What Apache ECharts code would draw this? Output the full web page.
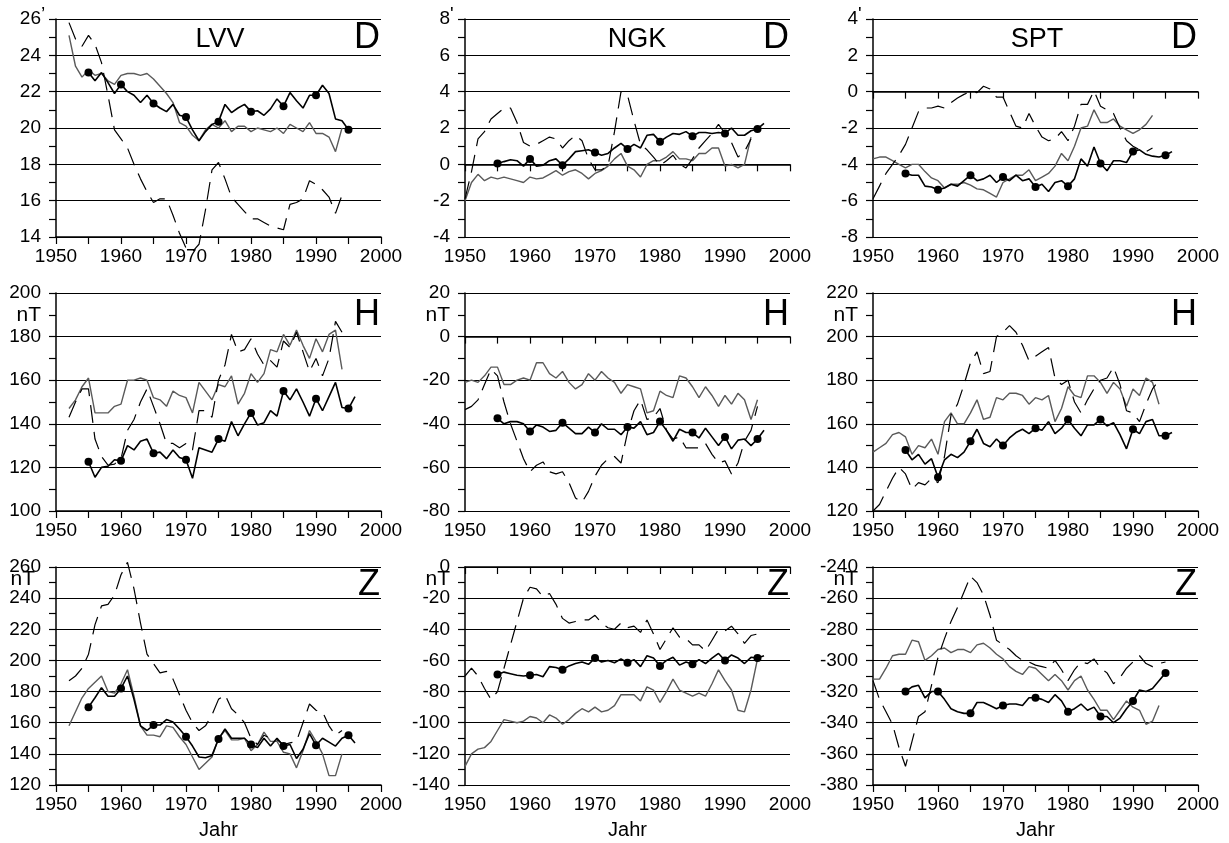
<!DOCTYPE html>
<html>
<head>
<meta charset="utf-8">
<script src="https://cdn.jsdelivr.net/npm/echarts@6/dist/echarts.min.js"></script>
<style>
  html, body { margin: 0; background: #fff; }
  #chart { width: 1229px; height: 843px; }
</style>
</head>
<body>
<div id="chart"></div>
<script>
// stations (columns) and field components (rows)
const stations = ['LVV', 'NGK', 'SPT'];
const components = ['D', 'H', 'Z'];

// y scales [min, max, step] per panel, row by row
const yScales = [
  [14, 26, 2], [-4, 8, 2], [-8, 4, 2],
  [100, 200, 20], [-80, 20, 20], [120, 220, 20],
  [120, 260, 20], [-140, 0, 20], [-380, -240, 20]
];

// --- D (minutes of arc) ---
const lvvD_from = [1955, 1952, 1952];
const lvvD_black = [23.05, 22.6, 23.05, 22.5, 21.9, 22.4, 22.0, 21.8, 21.4, 21.8, 21.35, 21.1, 20.9, 21.3, 20.7, 20.6, 19.9, 19.3, 19.8, 20.2, 20.35, 21.3, 20.85, 21.1, 21.3, 20.9, 20.95, 20.7, 21.05, 21.6, 21.2, 21.95, 21.5, 21.1, 21.8, 21.8, 22.35, 21.9, 20.5, 20.4, 19.9];
const lvvD_gray = [25.1, 23.4, 22.8, 23.2, 22.9, 23.0, 22.6, 22.4, 22.9, 23.0, 23.0, 22.9, 23.0, 22.7, 22.3, 21.9, 21.4, 20.3, 20.1, 19.6, 19.3, 19.9, 20.2, 20.0, 20.4, 19.8, 20.1, 20.1, 19.8, 20.0, 19.9, 19.8, 20.0, 19.7, 20.2, 20.0, 19.8, 20.3, 19.7, 19.7, 19.5, 18.7, 20.0];
const lvvD_dash = [25.8, 24.9, 24.5, 25.1, 24.6, 23.6, 21.8, 19.9, 19.4, 18.9, 18.0, 17.2, 16.5, 15.9, 16.1, 16.1, 15.2, 14.2, 13.4, 13.2, 13.6, 15.5, 17.7, 18.1, 17.2, 16.2, 15.8, 15.4, 15.0, 15.0, 14.8, 14.6, 14.5, 14.4, 15.8, 15.9, 16.1, 17.1, 16.9, 16.6, 16.2, 15.3, 16.3];

const ngkD_from = [1955, 1950, 1950];
const ngkD_black = [0.04, 0.15, 0.25, 0.2, -0.1, 0.3, -0.1, -0.05, 0.2, 0.3, -0.05, 0.3, 0.7, 0.75, 0.8, 0.65, 0.5, 0.6, 0.9, 1.15, 0.85, 1.1, 0.9, 1.6, 1.65, 1.25, 1.5, 1.7, 1.65, 1.8, 1.55, 1.75, 1.75, 1.7, 1.75, 1.7, 2.0, 1.6, 1.6, 1.85, 1.95, 2.25];
const ngkD_gray = [-2.0, -1.0, -0.55, -0.9, -0.7, -0.8, -0.7, -0.8, -0.9, -1.0, -0.7, -0.8, -0.75, -0.55, -0.35, -0.6, -0.4, -0.3, -0.5, -0.8, -0.5, -0.35, -0.1, 0.3, 0.6, -0.1, -0.3, -0.7, 0.0, 0.2, 0.2, 0.4, 0.7, 0.3, 0.3, 0.2, 0.6, 0.6, 0.9, 0.9, -0.1, 0.0, -0.2, 0.0, 1.5];
const ngkD_dash = [-1.9, -0.4, 1.4, 1.8, 2.5, 2.8, 3.1, 3.1, 2.3, 1.2, 1.0, 1.1, 1.3, 1.5, 1.4, 0.9, 1.3, 1.6, 1.3, 0.3, -0.3, -0.3, -0.1, 1.8, 4.0, 3.8, 2.4, 1.1, 0.8, 0.4, -0.05, 0.2, 0.5, 0.0, -0.2, 0.3, 0.9, 1.3, 1.7, 2.2, 1.7, 1.2, 0.4, 0.7, 1.4];

const sptD_from = [1955, 1950, 1950];
const sptD_black = [-4.5, -4.6, -4.6, -5.2, -5.25, -5.4, -5.3, -5.1, -5.2, -4.9, -4.6, -4.9, -4.8, -4.6, -5.0, -4.7, -4.9, -4.6, -4.9, -4.8, -5.25, -5.1, -5.5, -5.0, -4.9, -5.2, -4.8, -3.7, -4.1, -3.05, -3.95, -4.35, -3.8, -3.8, -3.9, -3.3, -3.2, -3.45, -3.55, -3.6, -3.5, -3.3];
const sptD_gray = [-3.7, -3.6, -3.6, -3.8, -4.0, -4.2, -4.0, -4.0, -4.4, -4.75, -4.9, -5.3, -5.1, -5.1, -5.0, -5.15, -5.35, -5.4, -5.6, -5.8, -5.0, -4.8, -4.6, -4.6, -4.3, -4.9, -4.7, -4.5, -4.1, -3.4, -3.8, -3.0, -2.0, -1.9, -1.0, -1.7, -1.7, -1.5, -1.9, -2.1, -2.3, -2.1, -1.8, -1.3];
const sptD_dash = [-5.9, -5.2, -4.5, -4.0, -3.5, -2.9, -2.0, -1.1, -0.9, -0.9, -0.8, -0.9, -0.6, -0.35, -0.15, 0.0, -0.05, 0.3, 0.15, -0.3, -0.3, -1.1, -1.9, -2.0, -1.2, -1.9, -2.5, -2.7, -2.6, -2.2, -2.7, -1.9, -0.7, -0.7, 0.05, -0.8, -1.0, -1.2, -2.0, -2.7, -3.0, -3.2, -3.3, -3.1];

// --- H (nT) ---
const lvvH_from = [1955, 1952, 1952];
const lvvH_black = [122.6, 115.5, 120, 120.5, 123.5, 123, 130, 128, 132, 133, 126.5, 127, 124, 128, 124.5, 123.5, 115, 129, 128, 127, 133, 132, 141, 134.5, 140, 145, 139.5, 140.5, 146, 143.5, 155, 151, 156, 150, 143.5, 151.5, 146, 152.5, 159, 147.5, 147, 152.5];
const lvvH_gray = [147, 151, 157, 161, 145, 145, 145, 148, 149, 160, 160, 161, 160, 152, 151, 148, 155, 153, 152, 145, 159, 155, 151, 158, 157, 162, 149, 154, 163, 159, 163, 174, 173, 181, 176, 183, 176, 170, 179, 173, 181, 183, 165];
const lvvH_dash = [143, 150, 156, 156, 133, 125, 121, 121.5, 124, 137, 142, 150, 156, 148, 140, 131, 131, 129, 131, 128, 146, 146, 143, 160, 167, 181, 173, 174, 179, 172, 167, 169, 166, 178, 175, 182, 173, 164, 170, 162, 170, 187, 182];

const ngkH_from = [1955, 1950, 1950];
const ngkH_black = [-37.5, -40, -39, -39, -40, -43.5, -40.5, -41.5, -43.5, -43, -39.5, -42, -44.5, -44.5, -41.5, -44, -40, -42.5, -42.5, -45, -41.5, -42, -39, -45, -44, -39, -43, -48, -42.5, -44, -44, -46.5, -42, -46, -50, -46, -51.5, -47.5, -47, -50, -47, -43];
const ngkH_gray = [-21, -20, -21, -18, -14, -14, -22, -22, -20, -19, -20, -12, -12, -17, -19, -16, -21, -24, -22, -17, -20, -16, -19, -21, -26, -22, -23, -24, -35, -34, -25, -27, -28, -18, -19, -23, -28, -23, -27, -32, -27, -31, -26, -29, -38, -29];
const ngkH_dash = [-33.5, -32, -29, -22, -15, -18, -30, -40, -48, -56, -62, -59, -57.5, -62, -63, -62, -67, -74, -76, -71, -64, -59, -56, -55, -58, -44, -34, -29, -38, -37, -33, -43, -47, -46, -51, -51, -51, -49, -54, -58, -57, -63, -58, -48, -43, -32];

const sptH_from = [1955, 1950, 1950];
const sptH_black = [148, 143.5, 146, 141.5, 144, 135.5, 143.5, 146, 144.5, 147, 152, 157.5, 151, 149.5, 153, 150, 153.5, 156, 157.5, 155.5, 158, 157, 161, 155.5, 158, 162, 158, 154.5, 159.5, 159.5, 162, 159, 160.5, 155, 148.5, 157.5, 155.5, 161, 162, 154.5, 154.5, 156];
const sptH_gray = [147, 149, 151, 155, 156, 154, 146, 150, 149, 153, 146, 161, 165, 160, 160, 165, 171, 162, 163, 172, 171, 174, 174, 173, 169, 172, 171, 173, 161, 167, 177, 173, 172, 182, 182, 179, 174, 179, 176, 168, 176, 173, 181, 179, 169];
const sptH_dash = [120, 123, 129, 135, 140, 137, 130, 133, 132, 135, 133, 145, 164, 169, 178, 188, 193, 183, 184, 200, 202, 205, 202, 196, 189, 191, 193, 195, 181, 178, 180, 170, 165, 171, 176, 180, 181, 186, 178, 166, 165, 161, 169, 176, 180];

// --- Z (nT) ---
const lvvZ_from = [1955, 1952, 1952];
const lvvZ_black = [170, 176, 182.5, 177, 177, 182, 190, 175, 158, 155, 158.5, 158.5, 162, 160.5, 156, 151, 145, 138, 137.5, 139, 149.5, 156, 150, 150, 150, 146, 144, 150, 145, 150, 145, 146, 137, 143, 153, 145.5, 150, 147.5, 145, 150, 152, 147];
const lvvZ_gray = [158, 167, 176, 182, 186, 190, 180, 179, 185, 194, 177, 158, 152, 152, 151, 158, 157, 151, 146, 138, 130, 134, 138, 150, 155, 149, 149, 150, 142, 146, 154, 148, 148, 141, 140, 131, 142, 155, 148, 140, 126, 126, 140];
const lvvZ_dash = [187, 190, 195, 204, 223, 235, 236, 242, 255, 263, 246, 224, 204, 198, 192, 193, 188, 178, 168, 160, 155, 158, 165, 175, 178, 169, 165, 160, 150, 146, 152, 150, 149, 146, 147, 148, 160, 172, 168, 167, 158, 152, 155];

const ngkZ_from = [1955, 1950, 1950];
const ngkZ_black = [-69, -67.5, -68.5, -69.5, -70, -69.5, -69, -70.5, -64, -64.5, -66, -63.5, -62, -61, -62.5, -58.5, -61, -60, -61.5, -59, -61.5, -59.5, -64, -57, -58.5, -63.5, -60, -58, -63, -61, -62.5, -59.5, -62, -58.5, -55.5, -60, -56.5, -58.5, -62, -58, -58.5, -57];
const ngkZ_gray = [-128, -120, -117, -116, -112, -105, -98, -99, -100, -99, -96, -97, -100, -95, -97, -101, -98, -94, -91, -93, -90, -93, -92, -89, -82, -82, -82, -86, -77, -79, -87, -80, -72, -79, -81, -83, -81, -83, -75, -66, -73, -79, -92, -93, -79, -59];
const ngkZ_dash = [-70, -65, -70, -78, -85, -80, -65, -50, -35, -20, -13, -14, -19, -17, -24, -33, -36, -35, -34, -34, -31, -36, -39, -40, -36, -39, -38, -42, -34, -43, -53, -46, -39, -45, -46, -50, -50, -54, -47, -40, -41, -38, -43, -49, -44, -43];

const sptZ_from = [1955, 1950, 1950];
const sptZ_black = [-320, -317, -316, -324, -320, -320, -325, -331, -333, -334, -334, -327, -327, -329, -331, -329, -328, -328, -329, -324, -324, -325, -327, -322, -326, -333, -331, -328, -332, -330, -336, -336, -340, -337, -331, -326, -319, -320, -318, -313, -308];
const sptZ_gray = [-312, -312, -305, -297, -296, -296, -287, -288, -300, -297, -293, -292, -295, -293, -293, -295, -290, -289, -292, -296, -299, -304, -307, -309, -304, -305, -309, -313, -309, -313, -319, -313, -310, -319, -325, -332, -332, -338, -332, -326, -330, -332, -341, -339, -329];
const sptZ_dash = [-313, -325, -333, -341, -356, -368, -352, -336, -333, -316, -298, -286, -275, -266, -256, -246, -250, -258, -271, -287, -290, -293, -297, -300, -301, -303, -304, -305, -300, -306, -313, -306, -301, -302, -299, -305, -308, -315, -311, -305, -301, -297, -302, -304, -302, -301];

const panels = [
  [lvvD_from, lvvD_black, lvvD_gray, lvvD_dash],
  [ngkD_from, ngkD_black, ngkD_gray, ngkD_dash],
  [sptD_from, sptD_black, sptD_gray, sptD_dash],
  [lvvH_from, lvvH_black, lvvH_gray, lvvH_dash],
  [ngkH_from, ngkH_black, ngkH_gray, ngkH_dash],
  [sptH_from, sptH_black, sptH_gray, sptH_dash],
  [lvvZ_from, lvvZ_black, lvvZ_gray, lvvZ_dash],
  [ngkZ_from, ngkZ_black, ngkZ_gray, ngkZ_dash],
  [sptZ_from, sptZ_black, sptZ_gray, sptZ_dash]
];

// layout
const LEFTS = [56, 465, 873];
const TOPS = [19, 293, 567];
const W = 325, H = 218;
const FONT = 'Liberation Sans, Arial, sans-serif';

const toPairs = (from, vals) => vals.map((v, k) => [from + k, v]);

const grids = [], xAxes = [], yAxes = [], series = [], graphics = [];

for (let r = 0; r < 3; r++) {
  for (let c = 0; c < 3; c++) {
    const i = r * 3 + c;
    const [ymin, ymax, ystep] = yScales[i];
    const [from, black, gray, dash] = panels[i];

    grids.push({ left: LEFTS[c], top: TOPS[r], width: W, height: H });

    xAxes.push({
      gridIndex: i,
      type: 'value',
      min: 1950, max: 2000, interval: 10,
      axisLine: { lineStyle: { color: '#000', width: 1.5 } },
      axisTick: { length: 7, lineStyle: { color: '#000', width: 1.2 } },
      minorTick: { show: true, splitNumber: 2, length: 7, lineStyle: { color: '#000', width: 1.2 } },
      splitLine: { show: false },
      axisLabel: { color: '#000', fontSize: 19, fontFamily: FONT, margin: 10, formatter: v => String(v) },
      name: r === 2 ? 'Jahr' : '',
      nameLocation: 'middle',
      nameGap: 35,
      nameTextStyle: { color: '#000', fontSize: 20, fontFamily: FONT }
    });

    yAxes.push({
      gridIndex: i,
      type: 'value',
      min: ymin, max: ymax, interval: ystep,
      axisLine: { show: true, lineStyle: { color: '#000', width: 1.5 } },
      axisTick: { show: true, length: 7, lineStyle: { color: '#000', width: 1.2 } },
      minorTick: { show: true, splitNumber: 2, length: 7, lineStyle: { color: '#000', width: 1.2 } },
      splitLine: { show: true, lineStyle: { color: '#000', width: 1 } },
      axisLabel: { color: '#000', fontSize: 19, fontFamily: FONT, margin: 15 }
    });

    series.push({
      type: 'line', xAxisIndex: i, yAxisIndex: i, clip: false,
      data: toPairs(from[1], gray), symbol: 'none',
      lineStyle: { color: '#5a5a5a', width: 1.4 }, z: 2
    });
    series.push({
      type: 'line', xAxisIndex: i, yAxisIndex: i, clip: false,
      data: toPairs(from[2], dash), symbol: 'none',
      lineStyle: { color: '#000', width: 1.2, type: [18, 9] }, z: 3
    });
    series.push({
      type: 'line', xAxisIndex: i, yAxisIndex: i, clip: false,
      data: toPairs(from[0], black),
      symbol: 'circle',
      symbolSize: v => (v[0] % 5 === 0 ? 8 : 0),
      itemStyle: { color: '#000' },
      lineStyle: { color: '#000', width: 1.6 }, z: 4
    });

    // component letter, top right
    graphics.push({
      type: 'text', x: LEFTS[c] + W - 1, y: TOPS[r] + [19, 22, 18][r],
      style: { text: components[r], font: '36px ' + FONT, fill: '#000', align: 'right', verticalAlign: 'middle' }
    });

    if (r === 0) {
      // minute mark after top label
      graphics.push({
        type: 'text', x: LEFTS[c] - 15, y: TOPS[0] - 4,
        style: { text: c === 0 ? '\u2019' : "'", font: '19px ' + FONT, fill: '#000', align: 'left', verticalAlign: 'middle' }
      });
    } else {
      graphics.push({
        type: 'text',
        x: (r === 2 && c === 0) ? LEFTS[c] - 21 : LEFTS[c] - 15,
        y: TOPS[r] + (r === 1 ? 22 : 12),
        style: { text: 'nT', font: '21px ' + FONT, fill: '#000', align: 'right', verticalAlign: 'middle' }
      });
    }
  }
}

// station names
const titleX = [220, 637, 1037];
stations.forEach((s, c) => {
  graphics.push({
    type: 'text', x: titleX[c], y: TOPS[0] + 21,
    style: { text: s, font: '27px ' + FONT, fill: '#000', align: 'center', verticalAlign: 'middle' }
  });
});

const chart = echarts.init(document.getElementById('chart'));
chart.setOption({
  animation: false,
  backgroundColor: '#fff',
  textStyle: { fontFamily: FONT },
  grid: grids,
  xAxis: xAxes,
  yAxis: yAxes,
  series: series,
  graphic: graphics
});
</script>
</body>
</html>
